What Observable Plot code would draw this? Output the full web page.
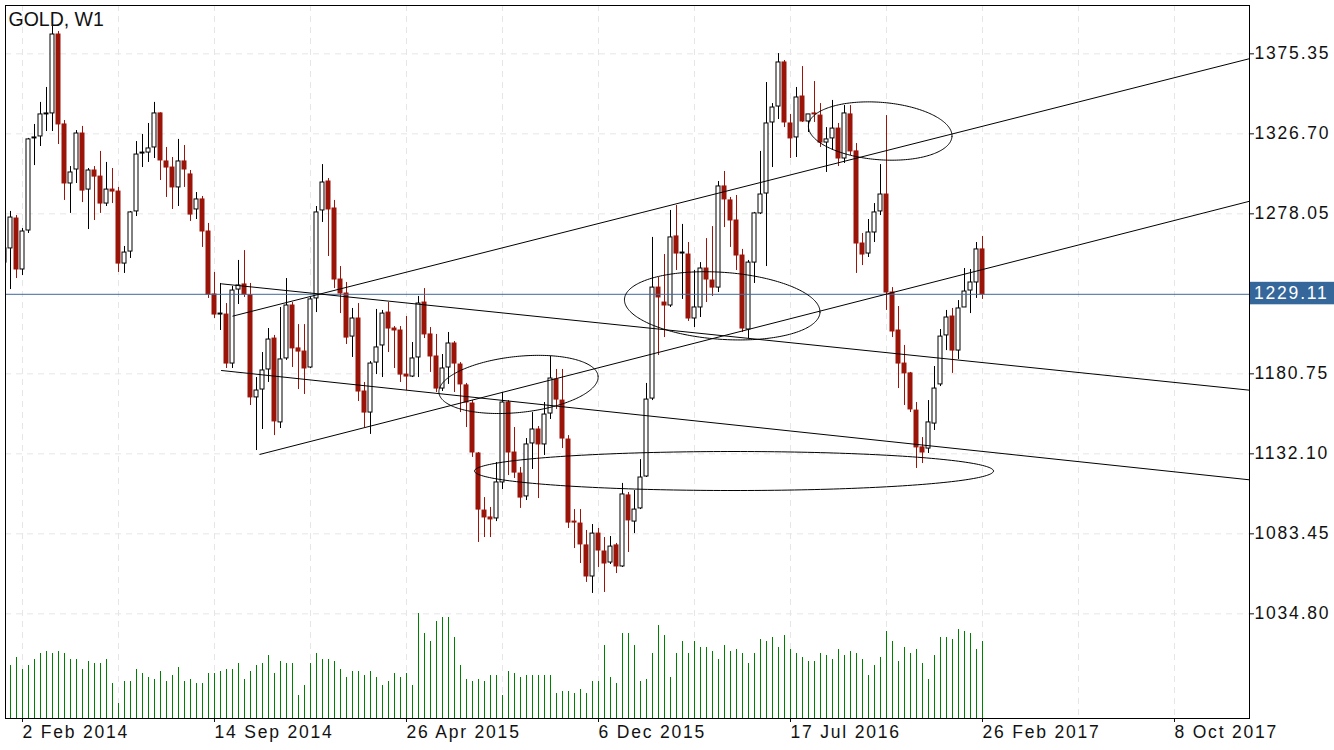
<!DOCTYPE html>
<html><head><meta charset="utf-8">
<script src="https://cdn.jsdelivr.net/npm/d3@7"></script>
<script src="https://cdn.jsdelivr.net/npm/@observablehq/plot@0.6"></script>
<style>
html,body{margin:0;padding:0;background:#fff;overflow:hidden;}
#chart{position:relative;width:1334px;height:750px;}
#chart svg{position:absolute;left:0;top:0;}
#chart svg text{letter-spacing:1.8px;}
#chart svg text.title-text{letter-spacing:0;}
</style></head><body><div id="chart"></div>
<script>
// ---- data (weekly GOLD candles; index 0 = first full week shown) ----
const firstIndex = -1;
const open = [1248.4,1257.0,1275.2,1244.2,1267.9,1323.9,1325.1,1338.5,1339.1,1387.1,
1332.4,1296.5,1305.0,1326.9,1292.8,1304.4,1300.7,1284.3,1292.8,1291.6,
1247.8,1255.1,1279.5,1314.7,1315.3,1318.4,1339.1,1309.9,1306.2,1294.1,
1309.9,1302.0,1280.7,1286.8,1267.3,1229.0,1216.8,1216.8,1187.0,1232.0,
1235.1,1228.4,1166.4,1171.2,1183.4,1202.2,1151.2,1190.1,1222.3,1196.2,
1194.3,1184.6,1226.6,1280.1,1297.7,1281.3,1238.1,1229.6,1203.4,1214.4,
1170.0,1157.2,1187.6,1198.0,1218.0,1208.3,1207.1,1180.3,1179.1,1190.7,
1224.1,1204.7,1191.3,1171.8,1184.6,1199.2,1186.4,1173.7,1162.7,1132.3,
1097.6,1093.4,1092.8,1114.7,1163.3,1132.9,1120.1,1106.2,1138.4,1146.9,
1137.8,1156.6,1177.3,1164.5,1140.8,1090.9,1089.7,1076.4,1057.5,1083.6,
1072.7,1066.0,1076.4,1063.6,1106.8,1090.9,1098.9,1118.3,1165.7,1233.2,
1224.1,1222.3,1264.3,1253.9,1253.3,1214.4,1221.1,1244.8,1237.5,1233.2,
1294.7,1286.2,1274.0,1252.7,1207.7,1248.4,1278.3,1290.4,1333.6,1343.3,
1370.1,1333.0,1324.5,1349.4,1334.2,1339.1,1337.8,1321.4,1323.9,1329.9,
1311.7,1338.5,1316.0,1260.0,1253.9,1266.7,1279.5,1289.8,1230.2,1207.1,
1187.0,1181.0,1158.4,1136.0,1135.3,1150.5,1174.3,1204.1,1215.6,1194.9,
1221.1,1231.4,1236.3,1256.4];
const high = [1259.4,1279.5,1277.0,1269.1,1323.9,1332.4,1345.8,1354.9,1392.6,1388.9,
1334.8,1306.8,1328.7,1331.2,1305.6,1306.8,1316.0,1309.3,1305.6,1294.1,
1258.2,1279.5,1322.0,1326.3,1333.0,1345.8,1339.5,1318.4,1312.3,1323.3,
1319.6,1304.4,1291.0,1288.6,1272.2,1242.4,1235.7,1223.5,1233.9,1249.7,
1255.7,1235.7,1178.5,1193.7,1208.3,1204.1,1221.1,1238.7,1224.1,1210.7,
1210.7,1227.2,1282.5,1308.0,1299.5,1286.2,1246.0,1236.3,1220.5,1223.5,
1175.5,1188.2,1219.9,1219.3,1224.1,1209.5,1209.5,1215.6,1199.8,1227.8,
1232.6,1208.9,1204.7,1192.5,1205.9,1200.4,1187.6,1174.9,1164.5,1132.9,
1105.5,1099.5,1126.8,1169.4,1164.5,1148.1,1123.8,1141.4,1157.2,1148.7,
1163.3,1191.3,1183.4,1183.4,1143.2,1098.2,1098.2,1085.5,1089.1,1086.7,
1081.2,1081.8,1077.6,1114.1,1108.6,1109.8,1128.6,1174.9,1263.7,1239.3,
1253.3,1280.1,1283.1,1271.6,1260.6,1243.6,1248.4,1263.0,1270.3,1297.7,
1303.8,1288.0,1289.2,1256.4,1249.7,1278.9,1316.0,1357.9,1345.1,1375.5,
1371.3,1338.5,1354.9,1367.6,1338.5,1358.5,1345.1,1330.5,1347.0,1333.0,
1343.9,1343.9,1320.8,1266.1,1274.6,1284.3,1308.0,1337.8,1233.2,1221.7,
1198.0,1181.6,1163.3,1142.0,1164.5,1185.2,1207.7,1219.3,1220.5,1225.3,
1244.8,1244.2,1260.6,1264.3];
const low = [1246.0,1232.0,1238.7,1240.5,1266.1,1307.4,1319.0,1328.1,1328.1,1320.2,
1286.2,1278.3,1296.5,1284.9,1268.5,1274.0,1278.3,1282.5,1284.3,1242.4,
1241.8,1250.9,1276.4,1306.2,1309.3,1311.7,1298.3,1288.0,1280.7,1282.5,
1294.1,1273.4,1274.6,1257.6,1226.6,1214.4,1207.1,1184.0,1184.0,1222.9,
1227.2,1161.5,1134.1,1146.9,1175.5,1143.2,1147.5,1188.9,1184.6,1171.2,
1168.2,1184.0,1218.0,1272.8,1252.1,1232.6,1217.4,1198.6,1190.7,1163.9,
1148.1,1143.9,1180.3,1178.5,1193.7,1184.0,1175.5,1170.6,1178.5,1178.5,
1202.2,1181.6,1169.4,1170.0,1174.3,1169.4,1157.2,1148.1,1129.9,1078.2,
1081.2,1081.2,1090.9,1110.4,1118.9,1117.1,1098.9,1103.7,1122.6,1104.9,
1131.1,1153.0,1159.1,1135.3,1086.7,1074.5,1065.4,1053.9,1047.2,1063.0,
1047.8,1064.8,1059.3,1063.0,1072.1,1083.6,1098.2,1117.7,1164.5,1191.9,
1202.8,1221.1,1243.6,1226.0,1212.6,1208.9,1215.0,1224.1,1227.8,1230.2,
1269.7,1257.6,1243.6,1205.9,1202.2,1235.7,1277.6,1246.0,1306.2,1335.4,
1330.5,1311.7,1312.3,1333.6,1327.5,1333.6,1318.4,1303.2,1316.6,1306.8,
1308.7,1313.5,1241.8,1246.6,1251.5,1260.6,1277.0,1219.3,1202.8,1171.8,
1161.5,1157.2,1123.2,1126.2,1132.3,1146.3,1173.0,1194.9,1181.0,1189.5,
1221.1,1217.4,1226.6,1226.0];
const close = [1257.0,1275.8,1244.2,1267.3,1323.3,1324.5,1338.5,1339.1,1387.1,1332.4,
1296.5,1303.2,1326.9,1292.2,1304.4,1300.7,1284.3,1292.8,1291.6,1247.8,
1254.5,1278.9,1314.1,1315.3,1317.8,1339.1,1310.5,1306.2,1294.1,1309.9,
1305.0,1277.6,1286.8,1267.3,1229.0,1216.8,1217.4,1187.0,1231.4,1234.5,
1229.0,1166.4,1170.6,1182.8,1201.6,1151.8,1189.5,1222.3,1196.2,1194.3,
1184.0,1226.0,1278.9,1297.1,1280.7,1238.1,1229.6,1202.8,1214.4,1170.0,
1157.2,1187.0,1196.8,1217.4,1208.3,1207.1,1180.3,1179.1,1190.1,1223.5,
1204.7,1191.3,1171.8,1184.0,1199.2,1187.0,1174.3,1163.3,1132.9,1098.2,
1093.4,1092.2,1114.7,1163.3,1132.9,1120.7,1105.5,1137.8,1146.9,1137.8,
1156.0,1177.9,1165.1,1141.4,1090.3,1090.3,1077.0,1057.5,1083.6,1073.3,
1065.4,1075.7,1063.6,1107.4,1091.6,1098.2,1117.7,1165.1,1233.2,1227.2,
1222.3,1263.7,1253.9,1254.5,1214.4,1221.1,1244.8,1238.1,1233.2,1294.7,
1286.8,1274.0,1252.7,1208.3,1248.4,1278.3,1289.8,1333.0,1342.7,1370.1,
1333.6,1323.9,1348.8,1334.2,1338.5,1338.5,1321.4,1323.3,1329.9,1311.7,
1339.1,1316.0,1260.0,1253.3,1266.7,1278.9,1289.8,1230.2,1206.5,1187.0,
1181.0,1159.1,1136.0,1132.9,1151.2,1171.8,1203.4,1215.0,1194.9,1220.5,
1230.8,1236.3,1256.4,1229.11];
// tick volume (relative units)
const volume = [null,53,61,49,53,59,65,67,65,67,65,
59,59,49,57,55,55,59,35,15,37,
37,49,45,41,39,47,37,43,51,37,
39,35,35,45,45,47,49,49,55,39,
47,53,55,63,45,57,55,55,23,33,
55,65,59,59,57,49,41,47,47,43,
47,41,33,37,45,41,45,33,105,85,
77,97,101,101,81,53,39,37,39,37,
43,43,23,47,45,41,43,43,43,43,
43,25,27,27,25,29,25,37,37,73,
41,35,85,85,73,37,39,65,93,83,
41,65,77,65,77,71,71,67,59,73,
67,69,65,55,65,79,77,81,71,83,
69,65,61,57,57,65,63,59,69,63,
67,65,59,43,53,61,87,77,57,71,
65,69,55,39,63,81,81,79,89,87,
85,69,77];

const tickIndex = [2,34,66,98,130,162,194];
const tickLabels = ["2 Feb 2014","14 Sep 2014","26 Apr 2015","6 Dec 2015","17 Jul 2016","26 Feb 2017","8 Oct 2017"];
const gridIndex = [2,18,34,50,66,82,98,114,130,146,162,178,194];
const priceTicks = [1375.35,1326.70,1278.05,1180.75,1132.10,1083.45,1034.80];
const lastPrice = 1229.11;
const symbolTitle = "GOLD, W1";

// trend lines (bar index, price)
const trendStartIdx = [37, 41.5, 35.1, 35.1];
const trendStartPrice = [1215.8, 1131.7, 1235.5, 1182.8];
const trendEndIdx = [206.5, 206.5, 206.5, 206.5];
const trendEndPrice = [1372.4, 1285.7, 1170.8, 1116.3];

// ellipses: centre and two conjugate semi-axes (bar index, price)
const ellCenterIdx = [84.67, 118.62, 144.95, 120.58];
const ellCenterPrice = [1174.3, 1222.1, 1328.4, 1121.65];
const ellUIdx = [13.26, 16.29, 11.96, 43.25];
const ellUPrice = [5.08, -4.16, -3.44, 0];
const ellVIdx = [0.49, -0.39, -0.375, 0];
const ellVPrice = [-16.94, -20.32, -17.40, -11.86];

// ---- build ----
const candles = open.map((o, k) => ({i: firstIndex + k, o, h: high[k], l: low[k], c: close[k], v: volume[k]}));
const ups = candles.filter(d => d.c >= d.o);
const downs = candles.filter(d => d.c < d.o);
const trend = trendStartIdx.map((x1, k) => ({x1, y1: trendStartPrice[k], x2: trendEndIdx[k], y2: trendEndPrice[k]}));
const ellipsePts = [];
ellCenterIdx.forEach((cx, k) => {
  for (let s = 0; s <= 240; s++) {
    const t = s / 240 * 2 * Math.PI;
    ellipsePts.push({id: k,
      x: cx + ellUIdx[k] * Math.cos(t) + ellVIdx[k] * Math.sin(t),
      y: ellCenterPrice[k] + ellUPrice[k] * Math.cos(t) + ellVPrice[k] * Math.sin(t)});
  }
});

const W = 1334, H = 750;
const M = {top: 5, right: 85, bottom: 32, left: 5};
const xDomain = [-5/6, 206.5];
const yDomain = [971.15, 1404.74];
const RED = "#9b1409";
const HALF = 1/3;
const GRID = "#e6e6e6";
const FONT = "'Liberation Sans', Arial, Helvetica, sans-serif";

const main = Plot.plot({
  width: W, height: H,
  marginTop: M.top, marginRight: M.right, marginBottom: M.bottom, marginLeft: M.left,
  style: {background: "#fff", fontFamily: FONT, color: "#111", overflow: "visible"},
  x: {type: "linear", domain: xDomain},
  y: {type: "linear", domain: yDomain},
  marks: [
    Plot.ruleX(gridIndex, {stroke: GRID, strokeDasharray: "6,5"}),
    Plot.ruleY(priceTicks, {stroke: GRID, strokeDasharray: "6,5"}),
    Plot.ruleX(ups, {x: "i", y1: "l", y2: "h", stroke: "#000", strokeWidth: 1, clip: true}),
    Plot.ruleX(downs, {x: "i", y1: "l", y2: "h", stroke: RED, strokeWidth: 1, clip: true}),
    Plot.rect(ups, {x1: d => d.i - HALF, x2: d => d.i + HALF, y1: "o", y2: "c", fill: "#fff", stroke: "#000", strokeWidth: 1, inset: 0, clip: true}),
    Plot.rect(downs, {x1: d => d.i - HALF, x2: d => d.i + HALF, y1: "o", y2: "c", fill: RED, stroke: RED, strokeWidth: 1, inset: 0, clip: true}),
    Plot.ruleY([lastPrice], {stroke: "#3c6a9c", strokeWidth: 1}),
    Plot.link(trend, {x1: "x1", y1: "y1", x2: "x2", y2: "y2", stroke: "#000", strokeWidth: 1, clip: true}),
    Plot.line(ellipsePts, {x: "x", y: "y", z: "id", stroke: "#000", strokeWidth: 1, clip: true}),
    Plot.axisY(priceTicks, {anchor: "right", tickSize: 4, tickPadding: 1, tickFormat: d => d.toFixed(2), fontSize: 17.5, label: null}),
    Plot.axisX(tickIndex, {anchor: "bottom", tickSize: 4, tickPadding: 3, tickFormat: d => tickLabels[tickIndex.indexOf(d)], textAnchor: "start", fontSize: 17.5, label: null}),
    Plot.frame({stroke: "#000"}),
    Plot.text([symbolTitle], {frameAnchor: "top-left", dx: 3, dy: 7, textAnchor: "start", lineAnchor: "top", fontSize: 19.5, fill: "#111"})
  ]
});

// title without tracking
d3.select(main).selectAll("text").filter(function() { return this.textContent === symbolTitle; }).classed("title-text", true);

// current price label box on the price axis
const yPx = main.scale("y").apply(lastPrice);
const svgSel = d3.select(main);
const lp = svgSel.append("g").attr("class", "last-price");
lp.append("rect").attr("x", W - M.right + 1).attr("y", yPx - 12).attr("width", M.right).attr("height", 22.5).attr("fill", "#35679b");
lp.append("text").attr("x", W - M.right + 5).attr("y", yPx + 5.5).attr("fill", "#fff").attr("font-size", 17.5).attr("text-anchor", "start").text(lastPrice.toFixed(2));

const volPlot = Plot.plot({
  width: W, height: H,
  marginTop: M.top, marginRight: M.right, marginBottom: M.bottom, marginLeft: M.left,
  style: {background: "transparent", pointerEvents: "none"},
  x: {type: "linear", domain: xDomain, axis: null},
  y: {type: "linear", domain: [0, 105], range: [H - M.bottom, H - M.bottom - 105], axis: null},
  marks: [
    Plot.ruleX(candles.filter(d => d.v != null && d.i >= 0), {x: "i", y1: 0, y2: "v", stroke: "#008000", strokeWidth: 1})
  ]
});

const chart = document.getElementById("chart");
chart.appendChild(main);
chart.appendChild(volPlot);
</script></body></html>
